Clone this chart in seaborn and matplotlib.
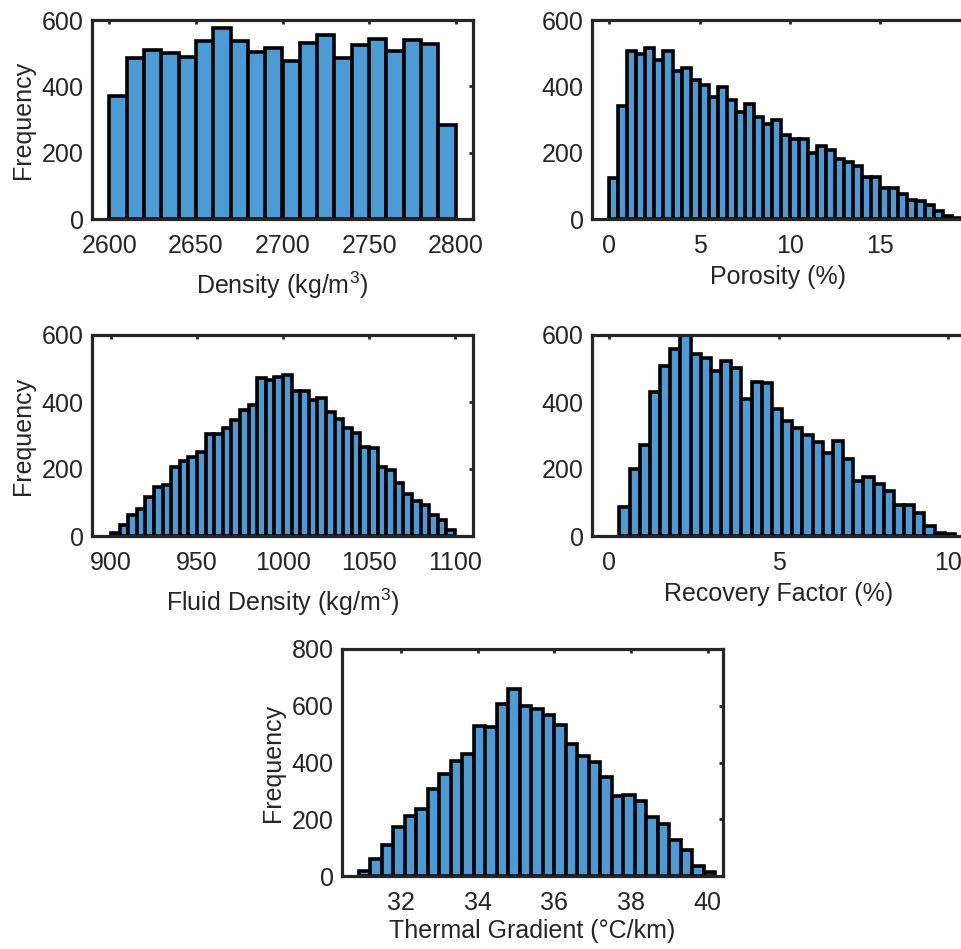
import numpy as np
import pandas as pd
import matplotlib
matplotlib.use("Agg")
import matplotlib.pyplot as plt
import seaborn as sns

# ---------------- data ----------------
density_counts = [370, 485, 510, 500, 487, 538, 575, 538, 505, 515,
                  476, 530, 556, 485, 525, 543, 507, 540, 527, 284]
density_start, density_width = 2600, 10

porosity_counts = [125, 341, 508, 496, 516, 478, 506, 447, 455, 419,
                   405, 369, 399, 358, 324, 348, 309, 286, 298, 254,
                   240, 240, 198, 219, 207, 182, 173, 160, 127, 127,
                   94, 94, 76, 56, 54, 43, 24, 9, 4]
porosity_start, porosity_width = 0.0, 0.5

fluid_counts = [10, 32, 64, 80, 115, 145, 153, 206, 225, 235,
                251, 303, 303, 323, 345, 376, 390, 471, 466, 476,
                481, 432, 434, 407, 412, 369, 348, 322, 306, 266,
                263, 207, 198, 158, 125, 105, 92, 62, 47, 17]
fluid_start, fluid_width = 900, 5

recovery_counts = [88, 200, 273, 429, 507, 559, 610, 544, 531, 494,
                   522, 502, 410, 461, 456, 379, 344, 323, 302, 280,
                   247, 283, 229, 165, 175, 156, 135, 93, 93, 70,
                   31, 9, 5]
recovery_start, recovery_width = 0.3, 0.3

thermal_counts = [18, 59, 109, 171, 211, 235, 308, 359, 404, 429,
                  528, 526, 606, 659, 598, 588, 566, 531, 465, 424,
                  401, 349, 281, 284, 266, 209, 182, 127, 92, 35, 15]
thermal_start, thermal_width = 30.9, 0.3

xlabels = [r"Density (kg/m$^3$)", "Porosity (%)", r"Fluid Density (kg/m$^3$)",
           "Recovery Factor (%)", "Thermal Gradient (°C/km)"]
xticks_list = [[2600, 2650, 2700, 2750, 2800], [0, 5, 10, 15],
               [900, 950, 1000, 1050, 1100], [0, 5, 10], [32, 34, 36, 38, 40]]
yticks_list = [[0, 200, 400, 600]] * 4 + [[0, 200, 400, 600, 800]]

# ---------------- style ----------------
sns.set_theme(style="white")
plt.rcParams["font.family"] = ["Liberation Sans", "DejaVu Sans"]
plt.rcParams["mathtext.fontset"] = "custom"
plt.rcParams["mathtext.rm"] = "Liberation Sans"
plt.rcParams["mathtext.it"] = "Liberation Sans"
plt.rcParams["axes.unicode_minus"] = False

W, H = 962, 949
fig = plt.figure(figsize=(W / 100, H / 100), dpi=100)
fig.patch.set_facecolor("white")

def rect(l, t, r, b):
    return [l / W, 1 - b / H, (r - l) / W, (b - t) / H]

specs = [
    (density_counts, density_start, density_width, rect(92, 20, 473, 219), (2590, 2810), (0, 600), True, 8),
    (porosity_counts, porosity_start, porosity_width, rect(592, 20, 965, 219), (-0.96, 19.7), (0, 600), False, 5),
    (fluid_counts, fluid_start, fluid_width, rect(92, 335, 473, 536), (889, 1110.5), (0, 600), True, 8),
    (recovery_counts, recovery_start, recovery_width, rect(592, 335, 965, 536), (-0.51, 10.5), (0, 600), False, 5),
    (thermal_counts, thermal_start, thermal_width, rect(342, 649, 723, 876), (30.46, 40.4), (0, 800), True, 3),
]

FS = 18
TXT = "#262626"
bar_color = "#4A9BD6"
for i, (counts, start, width, pos, xl, yl, ylab, lpad) in enumerate(specs):
    ax = fig.add_axes(pos)
    n = len(counts)
    edges = [float(start + width * k) for k in range(n + 1)]
    df = pd.DataFrame({
        "value": [(edges[k] + edges[k + 1]) / 2 for k in range(n)],
        "count": [float(c) for c in counts],
    })
    sns.histplot(data=df, x="value", weights="count", bins=edges, ax=ax,
                 color=bar_color, edgecolor="black", linewidth=2.6, alpha=1.0)
    ax.set_xlim(*xl)
    ax.set_ylim(*yl)
    ax.set_xticks(xticks_list[i])
    ax.set_yticks(yticks_list[i])
    ax.set_xticklabels([str(t) for t in xticks_list[i]])
    ax.set_yticklabels([str(t) for t in yticks_list[i]])
    ax.tick_params(direction="in", length=3, width=2, labelsize=FS,
                   top=True, right=True, colors=TXT)
    ax.tick_params(axis="x", pad=11)
    ax.tick_params(axis="y", pad=6)
    for s in ax.spines.values():
        s.set_visible(True)
        s.set_linewidth(2.3)
        s.set_color(TXT)
    ax.set_xlabel(xlabels[i], fontsize=FS, color=TXT, labelpad=lpad)
    if ylab:
        ax.set_ylabel("Frequency", fontsize=FS, color=TXT, labelpad=5)
    else:
        ax.set_ylabel("")
    ax.set_facecolor("white")

fig.savefig("out.png", dpi=100, facecolor="white")
